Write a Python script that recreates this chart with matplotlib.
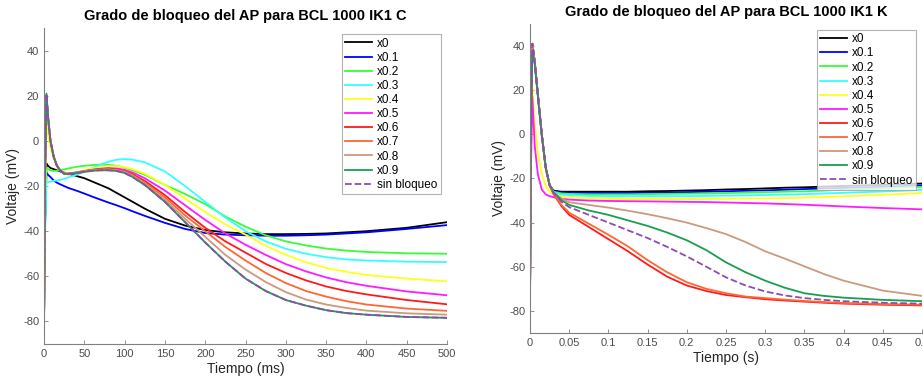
import matplotlib
matplotlib.use("Agg")
import matplotlib.pyplot as plt

plt.rcParams["font.family"] = ["Liberation Sans", "DejaVu Sans"]
plt.rcParams["axes.unicode_minus"] = False

LABELS = ["x0", "x0.1", "x0.2", "x0.3", "x0.4", "x0.5", "x0.6", "x0.7", "x0.8", "x0.9", "sin bloqueo"]
COLORS = ["#000000", "#0000ff", "#33ff33", "#33ffff", "#ffff1a", "#ff1aff", "#ff1a1a",
          "#ff6633", "#cc9980", "#1a9e4d", "#8c4cb0"]

# --- panel C: time in ms ---
t_c = [0, 1, 3, 5, 8, 12, 16, 20, 25, 30, 40, 50, 60, 70, 80, 90, 100, 110, 125,
       150, 175, 200, 225, 250, 275, 300, 325, 350, 375, 400, 450, 500]
c_x0 = [-80, -40, -10, -11, -12, -12.5, -13, -13.5, -14, -14.5, -15.5, -16.5, -18, -19.5, -21, -23, -25, -27, -30,
        -34.5, -37.5, -39.5, -40.5, -41, -41.3, -41.3, -41.2, -41, -40.5, -40, -38.5, -36]
c_x01 = [-80, -40, -14, -15, -16, -17.5, -18.5, -19.2, -20, -20.8, -22, -23.3, -24.7, -26, -27.3, -28.5, -29.8, -31.2, -33.2,
         -36.3, -39, -40.8, -41.5, -41.8, -42, -42, -41.8, -41.5, -41, -40.5, -39, -37.3]
c_x02 = [-80, -40, -12, -12.5, -13, -13.3, -13.2, -13, -12.6, -12.2, -11.5, -11, -10.7, -10.5, -10.6, -11, -11.8, -13, -15,
         -19.5, -23.5, -28, -33.5, -38, -41.8, -44.5, -46.3, -47.7, -48.6, -49.2, -49.8, -50]
c_x03 = [-80, -45, -18.5, -18.3, -18, -17.7, -17.5, -17.3, -16.8, -16.2, -15, -13.6, -12, -10.5, -9.2, -8.3, -8, -8.3, -9.5,
         -13.5, -20, -27, -34, -40, -44.5, -47.8, -50, -51.5, -52.5, -53, -53.5, -53.7]
c_x04 = [-80, -30, 8, 3, -3, -8, -11, -13, -14, -14.2, -13.8, -13, -12.2, -11.6, -11.2, -11.2, -11.6, -12.5, -14.5,
         -19.5, -25.5, -31.5, -37, -41.5, -46.5, -50.5, -53.8, -56.3, -58, -59.4, -61, -62.2]
c_x05 = [-80, -20, 20, 10, 0, -7, -11, -13, -14.5, -14.8, -14.3, -13.5, -12.8, -12.3, -12, -12.2, -12.8, -14, -16.5,
         -22, -28.5, -35, -41, -46, -50.5, -54.6, -57.8, -60.5, -62.6, -64.2, -66.7, -68.4]
c_x06 = [-80, -20, 20, 10, 0, -7, -11, -13, -14.5, -14.5, -14, -13.3, -12.8, -12.4, -12.3, -12.6, -13.4, -14.8, -17.7,
         -24, -31.5, -38.5, -44.5, -49.5, -54.5, -58.5, -61.8, -64.5, -66.5, -68, -70.5, -72.4]
c_x07 = [-80, -20, 20, 10, 0, -7, -11, -13, -14.5, -14.5, -14, -13.4, -12.9, -12.6, -12.5, -12.8, -13.6, -15.2, -18.5,
         -25, -33, -40, -47, -53, -58.5, -63, -66.5, -69, -71, -72.5, -74.3, -75.3]
c_x08 = [-80, -20, 20, 10, 0, -7, -11, -13, -14.5, -14.5, -14, -13.5, -13, -12.8, -12.7, -13, -13.8, -15.5, -19,
         -26, -34.5, -42.5, -50.5, -57, -62.5, -67, -70.3, -72.5, -74, -75.2, -76.4, -77]
c_x09 = [-80, -20, 21, 11, 0, -7, -11, -13, -14.5, -14.6, -14.2, -13.7, -13.2, -13, -13, -13.3, -14.2, -16, -19.5,
         -27, -36, -45, -53.5, -61, -66.5, -70.5, -73, -75, -76.3, -77, -78, -78.4]
c_sin = c_x09

# --- panel K: time in s ---
t_k = [0, 0.001, 0.003, 0.006, 0.01, 0.015, 0.02, 0.025, 0.03, 0.04, 0.05, 0.075, 0.1, 0.125,
       0.15, 0.175, 0.2, 0.225, 0.25, 0.275, 0.3, 0.325, 0.35, 0.375, 0.4, 0.45, 0.5]
k_x0 = [-78, 0, 41, 33, 18, 0, -15, -23, -25.5, -26, -26, -26, -26, -26,
        -25.8, -25.7, -25.5, -25.3, -25, -24.8, -24.5, -24.2, -24, -23.7, -23.4, -22.9, -22.3]
k_x01 = [-78, 0, 41, 33, 18, 0, -15, -23, -25.8, -26.4, -26.5, -26.6, -26.6, -26.6,
         -26.5, -26.4, -26.2, -26, -25.8, -25.6, -25.4, -25.1, -24.8, -24.5, -24.3, -23.8, -23.2]
k_x02 = [-78, 0, 41, 33, 18, 0, -15, -23, -26, -26.8, -27, -27.2, -27.2, -27.2,
         -27.1, -27, -26.9, -26.8, -26.6, -26.4, -26.2, -26, -25.8, -25.5, -25.1, -24.5, -23.8]
k_x03 = [-78, 0, 40, 32, 17, 0, -15, -23, -26.3, -27.3, -27.6, -27.9, -28, -28,
         -28, -28, -28, -27.9, -27.8, -27.7, -27.5, -27.3, -27.1, -26.8, -26.5, -25.9, -25.2]
k_x04 = [-78, -10, 22, 5, -8, -18, -23.5, -26, -27, -28.2, -28.7, -29, -29.2, -29.3,
         -29.3, -29.3, -29.3, -29.3, -29.2, -29.1, -29, -28.9, -28.7, -28.4, -28.1, -27.4, -26.6]
k_x05 = [-78, -20, 17, -5, -18, -25, -27.2, -28, -28.5, -29.2, -29.6, -30, -30.2, -30.3,
         -30.4, -30.5, -30.6, -30.7, -30.9, -31.1, -31.3, -31.6, -31.9, -32.3, -32.7, -33.4, -34]
k_x06 = [-78, 0, 41, 33, 18, 0, -15, -23, -27, -32.5, -36.5, -42, -47.5, -53,
         -59, -64.5, -68.5, -71, -72.8, -73.8, -74.7, -75.3, -75.8, -76.3, -76.7, -77.2, -77.5]
k_x07 = [-78, 0, 41, 33, 18, 0, -15, -23, -27, -32, -35.5, -40.5, -45.5, -50.8,
         -57, -62.5, -67, -70, -72, -73.5, -74.2, -74.9, -75.5, -76, -76.4, -76.9, -77.2]
k_x08 = [-78, 0, 41, 33, 18, 0, -15, -23, -26.2, -29, -30.8, -32, -33.2, -34.6,
         -36.2, -38, -40, -42.5, -45.2, -48.8, -53, -56.3, -59.8, -63.3, -66.3, -70.8, -73.2]
k_x09 = [-78, 0, 38, 32, 18, 0, -15, -23, -26.3, -29.8, -32, -34.5, -36.5, -39,
         -41.5, -44.5, -48, -52.5, -58, -62.5, -66.3, -69.5, -72, -73.2, -74, -75, -75.6]
k_sin = [-78, 0, 41, 33, 18, 0, -15, -23, -26.5, -30.5, -33, -36.5, -40, -43.5,
         -47, -51, -55.3, -60, -64.8, -68.5, -71.2, -73, -74.2, -75, -75.6, -76.3, -76.7]

series_c = [c_x0, c_x01, c_x02, c_x03, c_x04, c_x05, c_x06, c_x07, c_x08, c_x09, c_sin]
series_k = [k_x0, k_x01, k_x02, k_x03, k_x04, k_x05, k_x06, k_x07, k_x08, k_x09, k_sin]

xticks_c = [0, 50, 100, 150, 200, 250, 300, 350, 400, 450, 500]
xticks_k = [0, 0.05, 0.1, 0.15, 0.2, 0.25, 0.3, 0.35, 0.4, 0.45, 0.5]
xticklabels_k = ["0", "0.05", "0.1", "0.15", "0.2", "0.25", "0.3", "0.35", "0.4", "0.45", "0.5"]
yticks = [-80, -60, -40, -20, 0, 20, 40]

fig = plt.figure(figsize=(9.23, 3.76), dpi=100)
ax1 = fig.add_axes([0.0477, 0.0851, 0.4366, 0.840])
ax2 = fig.add_axes([0.5742, 0.1144, 0.4247, 0.822])


def draw(ax, t, series, title, xlabel, xlim):
    for lab, col, y in zip(LABELS, COLORS, series):
        ls = "--" if lab == "sin bloqueo" else "-"
        ax.plot(t, y, color=col, lw=1.3, ls=ls, label=lab)
    ax.set_xlim(*xlim)
    ax.set_ylim(-90, 50)
    ax.set_yticks(yticks)
    ax.set_title(title, fontsize=10.5, fontweight="bold", pad=6)
    ax.set_xlabel(xlabel, fontsize=10, color="#262626", labelpad=2)
    ax.set_ylabel("Voltaje (mV)", fontsize=10, color="#262626", labelpad=2)
    for side in ("top", "right"):
        ax.spines[side].set_visible(False)
    for side in ("left", "bottom"):
        ax.spines[side].set_color("#808080")
        ax.spines[side].set_linewidth(0.8)
    ax.tick_params(direction="in", length=3, width=0.6, colors="#808080",
                   labelcolor="#4d4d4d", labelsize=8)
    leg = ax.legend(loc="upper right", fontsize=8.5, frameon=True, fancybox=False,
                    handlelength=2.3, labelspacing=0.18, borderpad=0.3,
                    handletextpad=0.4, borderaxespad=0.5)
    leg.get_frame().set_edgecolor("#a0a0a0")
    leg.get_frame().set_linewidth(0.8)
    return leg


draw(ax1, t_c, series_c, "Grado de bloqueo del AP para BCL 1000 IK1 C", "Tiempo (ms)", (0, 500))
ax1.set_xticks(xticks_c)

draw(ax2, t_k, series_k, "Grado de bloqueo del AP para BCL 1000 IK1 K", "Tiempo (s)", (0, 0.5))
ax2.set_xticks(xticks_k)
ax2.set_xticklabels(xticklabels_k)
ax2.title.set_position((0.5, 1.01))

fig.savefig("out.png", dpi=100)
